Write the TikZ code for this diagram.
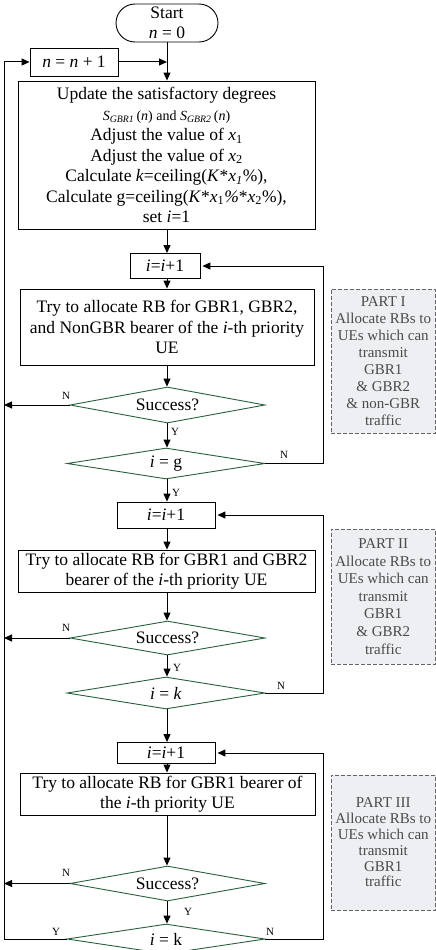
\documentclass[tikz,border=0pt]{standalone}
\usepackage{fontspec}
\setmainfont{Liberation Serif}
\usetikzlibrary{arrows.meta,shapes.geometric,shapes.misc}
\definecolor{dgreen}{RGB}{40,95,60}
\definecolor{partfill}{RGB}{237,239,242}
\definecolor{parttext}{RGB}{75,75,75}
\definecolor{partline}{RGB}{100,100,100}
\begin{document}
\begin{tikzpicture}[x=1pt,y=-1pt,
 box/.style={draw,line width=0.9pt,inner sep=0pt,align=center,font=\fontsize{17.5}{20.5}\selectfont},
 dec/.style={draw=dgreen,line width=0.9pt,diamond,aspect=5,inner sep=0pt,font=\fontsize{17.5}{20.5}\selectfont},
 part/.style={draw=partline,dash pattern=on 4pt off 2pt,fill=partfill,line width=0.8pt,inner sep=0pt,align=center,text=parttext,font=\fontsize{15}{16.9}\selectfont},
 arr/.style={line width=1pt,-{Triangle[length=8pt,width=7pt]}},
 lab/.style={font=\fontsize{11}{12}\selectfont,inner sep=0pt}]
\useasboundingbox (0,0) rectangle (436,950);
\coordinate (lft) at (4,0);
\coordinate (rgt) at (323,0);
\coordinate (cx) at (167,0);

\node[box,rounded rectangle,minimum width=102pt,minimum height=38pt] (start) at (167,23) {Start\\\textit{n} = 0};
\node[box,minimum width=88pt,minimum height=28pt] (inc) at (74,62) {\textit{n} = \textit{n} + 1};
\coordinate (j0) at (167,62);
\node[box,minimum width=297pt,minimum height=148pt] (upd) at (166.5,155) {Update the satisfactory degrees\\
{\fontsize{14}{20.5}\selectfont\textit{S}\textsubscript{\textit{GBR1}}\,(\textit{n}) and \textit{S}\textsubscript{\textit{GBR2}}\,(\textit{n})}\\
Adjust the value of \textit{x}\textsubscript{1}\\
Adjust the value of \textit{x}\textsubscript{2}\\
Calculate \textit{k}=ceiling(\textit{K}*\textit{x\textsubscript{1}}\%),\\
Calculate g=ceiling(\textit{K}*\textit{x}\textsubscript{1}\textit{\%}*\textit{x}\textsubscript{2}\%),\\
set \textit{i}=1};

% Part I
\node[box,minimum width=70pt,minimum height=25pt] (i1) at (165,266) {\textit{i}=\textit{i}+1};
\node[box,minimum width=294pt,minimum height=76pt] (try1) at (167,327) {Try to allocate RB for GBR1, GBR2,\\and NonGBR bearer of the \textit{i}-th priority\\UE};
\node[dec,minimum width=195pt,minimum height=36pt] (s1) at (167.5,405) {Success?};
\node[dec,minimum width=198pt,minimum height=31pt] (g1) at (166,463.5) {\textit{i} = g};
\node[part,minimum width=104.5pt,minimum height=144pt] (p1) at (383.25,361) {PART I\\Allocate RBs to\\UEs which can\\transmit\\GBR1\\ \& GBR2\\ \& non-GBR\\traffic};

% Part II
\node[box,minimum width=98pt,minimum height=26pt] (i2) at (166,515) {\textit{i}=\textit{i}+1};
\node[box,minimum width=297pt,minimum height=42pt] (try2) at (166.5,571) {Try to allocate RB for GBR1 and GBR2\\bearer of the \textit{i}-th priority UE};
\node[dec,minimum width=195pt,minimum height=34pt] (s2) at (167.5,638) {Success?};
\node[dec,minimum width=198pt,minimum height=32pt] (k2) at (166,693) {\textit{i} = \textit{k}};
\node[part,minimum width=104.5pt,minimum height=135pt,font=\fontsize{15}{17.6}\selectfont] (p2) at (383.25,596.5) {PART II\\Allocate RBs to\\UEs which can\\transmit\\GBR1\\ \& GBR2\\traffic};

% Part III
\node[box,minimum width=98pt,minimum height=21pt] (i3) at (166,753) {\textit{i}=\textit{i}+1};
\node[box,minimum width=295pt,minimum height=42pt] (try3) at (167.5,794) {Try to allocate RB for GBR1 bearer of\\the \textit{i}-th priority UE};
\node[dec,minimum width=195pt,minimum height=35pt] (s3) at (167.5,883.5) {Success?};
\node[dec,minimum width=198pt,minimum height=30pt] (k3) at (166,939) {\textit{i} = k};
\node[part,minimum width=104.5pt,minimum height=135pt,font=\fontsize{15}{15.8}\selectfont] (p3) at (383.25,842.5) {PART III\\Allocate RBs to\\UEs which can\\transmit\\GBR1\\traffic};

% main flow
\draw[arr] (start.south -| cx) -- (upd.north -| cx);
\draw[arr] (inc.east) -- (j0);
\draw[arr] (upd.south -| cx) -- (i1.north -| cx);
\draw[arr] (i1.south -| cx) -- (try1.north -| cx);
\draw[arr] (try1.south -| cx) -- (s1.north -| cx);
\draw[arr] (s1.south -| cx) -- (g1.north -| cx);
\draw[arr] (g1.south -| cx) -- (i2.north -| cx);
\draw[arr] (i2.south -| cx) -- (try2.north -| cx);
\draw[arr] (try2.south -| cx) -- (s2.north -| cx);
\draw[arr] (s2.south -| cx) -- (k2.north -| cx);
\draw[arr] (k2.south -| cx) -- (i3.north -| cx);
\draw[arr] (i3.south -| cx) -- (try3.north -| cx);
\draw[arr] (try3.south -| cx) -- (s3.north -| cx);
\draw[arr] (s3.south -| cx) -- (k3.north -| cx);

% failure branches
\draw[arr] (s1.west) -- (s1.west -| lft);
\draw[arr] (s2.west) -- (s2.west -| lft);
\draw[arr] (s3.west) -- (s3.west -| lft);

% loops back
\draw[arr,shorten >=2pt] (g1.east) -- (g1.east -| rgt) |- (i1.east);
\draw[arr,shorten >=2pt] (k2.east) -- (k2.east -| rgt) |- (i2.east);
\draw[arr,shorten >=2pt] (k3.east) -- (k3.east -| rgt) |- (i3.east);
\draw[arr] (k3.west) -- (k3.west -| lft) |- (inc.west);

% labels
\node[lab] (n1) at (66,396) {N};
\node[lab] (y1) at (175,432) {Y};
\node[lab] (n2) at (284,455) {N};
\node[lab] (y2) at (176,493) {Y};
\node[lab] (n3) at (66,628) {N};
\node[lab] (y3) at (177,668) {Y};
\node[lab] (n4) at (281,686) {N};
\node[lab] (n5) at (66,873) {N};
\node[lab] (y5) at (188,912) {Y};
\node[lab] (y6) at (56,932) {Y};
\node[lab] (n6) at (270,932) {N};
\end{tikzpicture}
\end{document}
